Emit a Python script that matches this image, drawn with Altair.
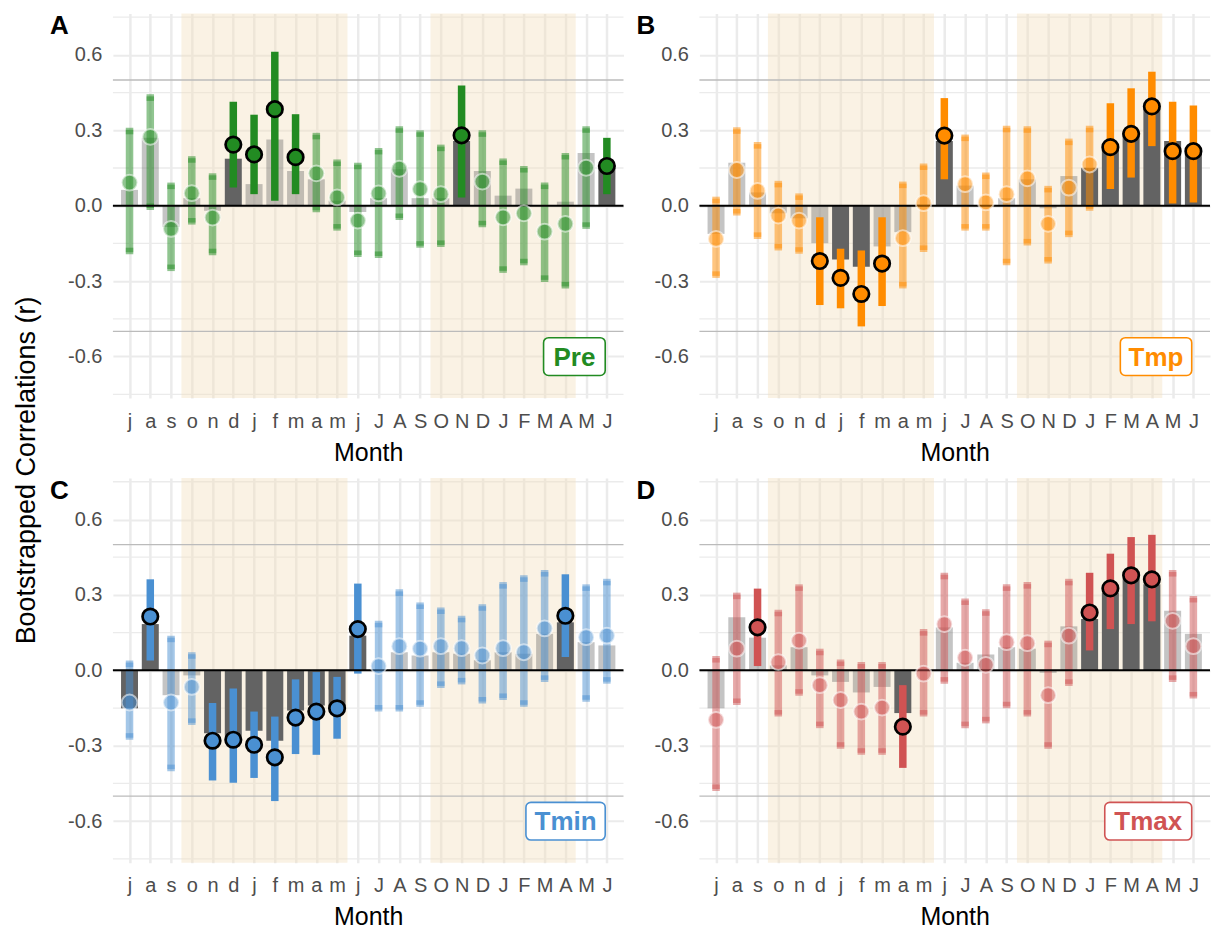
import json
import altair as alt
import pandas as pd

# ---------------- data ----------------
months = ["j", "a", "s", "o", "n", "d", "j", "f", "m", "a", "m", "j",
          "J", "A", "S", "O", "N", "D", "J", "F", "M", "A", "M", "J"]

# Panel A - Pre
pre_bar = [0.063, 0.27, -0.085, 0.03, -0.02, 0.187, 0.086, 0.263, 0.138, 0.105, 0.02, -0.025,
           0.03, 0.145, 0.03, 0.03, 0.257, 0.138, 0.04, 0.068, 0.0, 0.016, 0.21, 0.15]
pre_pt = [0.092, 0.274, -0.092, 0.05, -0.047, 0.243, 0.204, 0.384, 0.193, 0.129, 0.033, -0.059,
          0.049, 0.147, 0.066, 0.046, 0.28, 0.096, -0.046, -0.03, -0.103, -0.072, 0.151, 0.158]
pre_hi = [0.31, 0.443, 0.092, 0.197, 0.129, 0.414, 0.362, 0.612, 0.364, 0.29, 0.184, 0.171,
          0.23, 0.316, 0.3, 0.243, 0.478, 0.3, 0.188, 0.158, 0.092, 0.21, 0.316, 0.27]
pre_lo = [-0.193, -0.017, -0.26, -0.075, -0.197, 0.072, 0.046, 0.02, 0.046, -0.026, -0.099, -0.204,
          -0.208, -0.057, -0.167, -0.164, 0.033, -0.086, -0.267, -0.237, -0.303, -0.329, -0.092, 0.046]
pre_bsig = [0, 0, 0, 0, 0, 1, 0, 0, 0, 0, 0, 0, 0, 0, 0, 0, 1, 0, 0, 0, 0, 0, 0, 1]
pre_psig = [0, 0, 0, 0, 0, 1, 1, 1, 1, 0, 0, 0, 0, 0, 0, 0, 1, 0, 0, 0, 0, 0, 0, 1]

# Panel B - Tmp
tmp_bar = [-0.112, 0.171, 0.053, -0.03, -0.05, -0.149, -0.214, -0.243, -0.162, -0.105, 0.005, 0.257,
           0.08, 0.0, 0.03, 0.105, -0.01, 0.118, 0.151, 0.224, 0.296, 0.388, 0.257, 0.21]
tmp_pt = [-0.132, 0.142, 0.059, -0.039, -0.059, -0.22, -0.287, -0.351, -0.23, -0.129, 0.01, 0.279,
          0.086, 0.013, 0.046, 0.109, -0.072, 0.072, 0.164, 0.233, 0.286, 0.395, 0.217, 0.217]
tmp_hi = [0.036, 0.312, 0.253, 0.099, 0.049, -0.046, -0.171, -0.178, -0.046, 0.096, 0.168, 0.428,
          0.283, 0.132, 0.318, 0.316, 0.079, 0.267, 0.318, 0.408, 0.467, 0.533, 0.414, 0.399]
tmp_lo = [-0.287, -0.039, -0.132, -0.178, -0.191, -0.395, -0.408, -0.48, -0.399, -0.329, -0.184, 0.105,
          -0.099, -0.099, -0.237, -0.158, -0.23, -0.125, -0.02, 0.066, 0.112, 0.237, 0.009, 0.013]
tmp_bsig = [0, 0, 0, 0, 0, 0, 1, 1, 0, 0, 0, 1, 0, 0, 0, 0, 0, 0, 1, 1, 1, 1, 1, 1]
tmp_psig = [0, 0, 0, 0, 0, 1, 1, 1, 1, 0, 0, 1, 0, 0, 0, 0, 0, 0, 0, 1, 1, 1, 1, 1]

# Panel C - Tmin
tmin_bar = [-0.151, 0.184, -0.099, -0.02, -0.25, -0.26, -0.24, -0.28, -0.16, -0.14, -0.14, 0.138,
            0.0, 0.072, 0.059, 0.072, 0.066, 0.04, 0.072, 0.066, 0.145, 0.191, 0.112, 0.099]
tmin_pt = [-0.128, 0.214, -0.128, -0.066, -0.28, -0.276, -0.296, -0.346, -0.188, -0.164, -0.151, 0.164,
           0.017, 0.096, 0.086, 0.096, 0.088, 0.059, 0.088, 0.072, 0.167, 0.217, 0.132, 0.138]
tmin_hi = [0.039, 0.362, 0.138, 0.072, -0.13, -0.072, -0.164, -0.184, -0.036, -0.007, -0.026, 0.345,
           0.197, 0.322, 0.27, 0.25, 0.217, 0.263, 0.351, 0.378, 0.399, 0.382, 0.342, 0.364]
tmin_lo = [-0.276, 0.039, -0.401, -0.217, -0.438, -0.447, -0.428, -0.52, -0.333, -0.336, -0.272, -0.013,
           -0.164, -0.164, -0.145, -0.07, -0.056, -0.132, -0.118, -0.145, -0.046, 0.053, -0.125, -0.053]
tmin_bsig = [1, 1, 0, 0, 1, 1, 1, 1, 1, 1, 1, 1, 0, 0, 0, 0, 0, 0, 0, 0, 0, 1, 0, 0]
tmin_psig = [0, 1, 0, 0, 1, 1, 1, 1, 1, 1, 1, 1, 0, 0, 0, 0, 0, 0, 0, 0, 0, 1, 0, 0]

# Panel D - Tmax
tmax_bar = [-0.151, 0.211, 0.13, 0.02, 0.092, -0.02, -0.046, -0.088, -0.066, -0.17, 0.0, 0.171,
            0.03, 0.063, 0.092, 0.086, -0.01, 0.175, 0.204, 0.309, 0.362, 0.342, 0.237, 0.145]
tmax_pt = [-0.197, 0.086, 0.171, 0.033, 0.118, -0.059, -0.118, -0.164, -0.148, -0.224, -0.013, 0.184,
           0.05, 0.022, 0.112, 0.108, -0.099, 0.138, 0.23, 0.326, 0.378, 0.362, 0.197, 0.096]
tmax_hi = [0.057, 0.309, 0.325, 0.241, 0.342, 0.086, 0.043, 0.033, 0.033, -0.059, 0.164, 0.388,
           0.286, 0.243, 0.342, 0.351, 0.118, 0.364, 0.388, 0.464, 0.53, 0.539, 0.399, 0.296]
tmax_lo = [-0.48, -0.138, 0.017, -0.184, -0.101, -0.23, -0.312, -0.336, -0.336, -0.388, -0.184, -0.053,
           -0.23, -0.211, -0.151, -0.184, -0.312, -0.062, 0.079, 0.164, 0.184, 0.195, -0.046, -0.112]
tmax_bsig = [0, 0, 0, 0, 0, 0, 0, 0, 0, 1, 0, 0, 0, 0, 0, 0, 0, 0, 1, 1, 1, 1, 0, 0]
tmax_psig = [0, 0, 1, 0, 0, 0, 0, 0, 0, 1, 0, 0, 0, 0, 0, 0, 0, 0, 1, 1, 1, 1, 0, 0]

growing_seasons = [(2.5, 10.5), (14.5, 21.5)]
minor_breaks = [-0.75, -0.45, -0.15, 0.15, 0.45, 0.75]
major_breaks = [-0.6, -0.3, 0.0, 0.3, 0.6]
ref_lines = [-0.5, 0.5]

# ---------------- style ----------------
FONT = "Liberation Sans"
YMIN, YMAX = -0.765, 0.765
W, H = 511, 385
GRID = "#EBEBEB"

xscale = alt.Scale(domain=[-0.56, 23.56], nice=False, zero=False)
yscale = alt.Scale(domain=[YMIN, YMAX], nice=False, zero=False)

x_label_expr = json.dumps(months) + "[datum.value]"
y_label_expr = ("datum.value < 0 ? '-' + format(-datum.value, '.1f') : "
                "format(datum.value, '.1f')")

xaxis = alt.Axis(values=list(range(24)), labelExpr=x_label_expr, grid=True,
                 gridColor=GRID, gridWidth=2.5, ticks=False, domain=False,
                 labelFontSize=20, labelColor="#4D4D4D", labelPadding=13,
                 labelFont=FONT, labelOverlap=False, labelFlush=False,
                 title="Month", titleFontSize=25, titleFontWeight="normal",
                 titleColor="black", titleFont=FONT, titlePadding=9)


def yaxis(with_title):
    common = dict(values=major_breaks, labelExpr=y_label_expr, grid=True,
                  gridColor=GRID, gridWidth=2, ticks=False, domain=False,
                  labelFontSize=20, labelColor="#4D4D4D", labelPadding=11,
                  labelFont=FONT)
    if with_title:
        return alt.Axis(title="Bootstrapped Correlations (r)", titleFontSize=27,
                        titleFontWeight="normal", titleColor="black", titleFont=FONT,
                        titleAngle=270, titleX=-86, titleY=457,
                        titleAlign="center", titleBaseline="middle", **common)
    return alt.Axis(title=None, **common)


def panel(letter, name, color, bar, pt, lo, hi, bsig, psig, box_left, ytitle):
    ya = yaxis(ytitle)

    def X(f):
        return alt.X(f, type="quantitative", scale=xscale, axis=xaxis)

    def Y(f):
        return alt.Y(f, type="quantitative", scale=yscale, axis=ya)

    df = pd.DataFrame({"idx": list(range(24)), "bar": bar, "pt": pt, "lo": lo,
                       "hi": hi, "bsig": bsig, "psig": psig})
    base = alt.Chart(df)

    minor = alt.Chart(pd.DataFrame({"v": minor_breaks})).mark_rule(
        color=GRID, strokeWidth=1.3).encode(y=Y("v"))

    shade_df = pd.DataFrame({"s": [g[0] for g in growing_seasons],
                             "e": [g[1] for g in growing_seasons],
                             "y0": [YMIN] * len(growing_seasons),
                             "y1": [YMAX] * len(growing_seasons)})
    shade = alt.Chart(shade_df).mark_rect(color="#F2E1BF", opacity=0.42).encode(
        x=X("s"), x2="e:Q", y=Y("y0"), y2="y1:Q")

    refs = alt.Chart(pd.DataFrame({"v": ref_lines})).mark_rule(
        color="#BBBBBB", strokeWidth=1.3).encode(y=Y("v"))

    bars = base.mark_bar(width=17, color="#636363").encode(
        x=X("idx"), y=Y("bar"), y2=alt.datum(0),
        opacity=alt.condition("datum.bsig == 1", alt.value(1.0), alt.value(0.38)))

    err = base.mark_rule(strokeWidth=7.5, color=color).encode(
        x=X("idx"), y=Y("lo"), y2="hi:Q",
        opacity=alt.condition("datum.psig == 1", alt.value(1.0), alt.value(0.5)))

    caps_top = base.transform_filter("datum.psig == 0").transform_calculate(
        c1="datum.hi - 0.026", c2="datum.hi - 0.008").mark_rule(
        strokeWidth=7.5, color=color, opacity=0.5).encode(x=X("idx"), y=Y("c1"), y2="c2:Q")
    caps_bot = base.transform_filter("datum.psig == 0").transform_calculate(
        c1="datum.lo + 0.008", c2="datum.lo + 0.026").mark_rule(
        strokeWidth=7.5, color=color, opacity=0.5).encode(x=X("idx"), y=Y("c1"), y2="c2:Q")

    zero = alt.Chart(pd.DataFrame({"v": [0.0]})).mark_rule(
        color="black", strokeWidth=2).encode(y=Y("v"))

    pts_ns = base.transform_filter("datum.psig == 0").mark_circle(
        size=250, color=color, fillOpacity=0.5, stroke="white", strokeOpacity=0.55,
        strokeWidth=2).encode(x=X("idx"), y=Y("pt"))
    pts_s = base.transform_filter("datum.psig == 1").mark_circle(
        size=240, color=color, fillOpacity=1, stroke="black", strokeWidth=2.7,
        opacity=1).encode(x=X("idx"), y=Y("pt"))

    box_right = 22.92
    box_df = pd.DataFrame({"x0": [box_left], "x1": [box_right], "y0": [-0.675],
                           "y1": [-0.525], "xc": [(box_left + box_right) / 2],
                           "yc": [-0.6], "t": [name]})
    box = alt.Chart(box_df).mark_rect(fill="white", stroke=color, strokeWidth=1.6,
                                      cornerRadius=5).encode(
        x=X("x0"), x2="x1:Q", y=Y("y0"), y2="y1:Q")
    box_txt = alt.Chart(box_df).mark_text(font=FONT, fontWeight="bold", fontSize=26,
                                          color=color, align="center",
                                          baseline="middle", dy=1).encode(
        x=X("xc"), y=Y("yc"), text="t:N")

    tag = alt.Chart(pd.DataFrame({"t": [letter]})).mark_text(
        font=FONT, fontWeight="bold", fontSize=26, color="black", align="left",
        baseline="top").encode(x=alt.value(-63), y=alt.value(0), text="t:N")

    return alt.layer(minor, shade, refs, bars, err, caps_top, caps_bot, zero,
                     pts_ns, pts_s, box, box_txt, tag).properties(width=W, height=H)


pA = panel("A", "Pre", "#228B22", pre_bar, pre_pt, pre_lo, pre_hi, pre_bsig, pre_psig, 19.95, True)
pB = panel("B", "Tmp", "#FF8C00", tmp_bar, tmp_pt, tmp_lo, tmp_hi, tmp_bsig, tmp_psig, 19.48, False)
pC = panel("C", "Tmin", "#4A90D2", tmin_bar, tmin_pt, tmin_lo, tmin_hi, tmin_bsig, tmin_psig, 19.1, False)
pD = panel("D", "Tmax", "#D05353", tmax_bar, tmax_pt, tmax_lo, tmax_hi, tmax_bsig, tmax_psig, 18.73, False)

chart = alt.concat(pA, pB, pC, pD, columns=2, spacing={"row": 80, "column": 76},
                   bounds="flush").properties(
    padding={"left": 5, "top": 5, "right": 0, "bottom": 0}
).configure(font=FONT, background="white").configure_view(strokeWidth=0)

chart.save("out.html", embed_options={"renderer": "svg", "actions": False})
